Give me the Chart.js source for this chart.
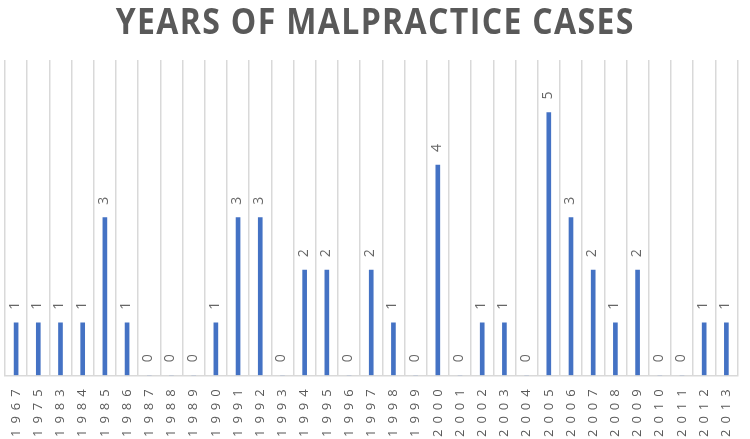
<!DOCTYPE html>
<html>
<head>
<meta charset="utf-8">
<script src="https://cdn.jsdelivr.net/npm/chart.js@4"></script>
<style>
    body { margin: 0; background: #fff; }
    #wrap { position: relative; width: 750px; height: 439px; }
    #title {
        position: absolute; left: 0; top: 0; width: 750px; text-align: center;
        font-family: 'Open Sans', sans-serif; font-weight: 700; font-size: 36px;
        color: #595959; letter-spacing: 1.5px; line-height: 42px;
        transform: scaleX(0.89); transform-origin: 377px 0;
    }
</style>
</head>
<body>
<div id="wrap">
    <div id="title">YEARS OF MALPRACTICE CASES</div>
    <canvas id="cases-chart" width="750" height="439"></canvas>
</div>
<script>
const years = ['1967', '1975', '1983', '1984', '1985', '1986', '1987', '1988', '1989', '1990',
    '1991', '1992', '1993', '1994', '1995', '1996', '1997', '1998', '1999', '2000',
    '2001', '2002', '2003', '2004', '2005', '2006', '2007', '2008', '2009', '2010',
    '2011', '2012', '2013'];
const caseCounts = [1, 1, 1, 1, 3, 1, 0, 0, 0, 1,
    3, 3, 0, 2, 2, 0, 2, 1, 0, 4,
    0, 1, 1, 0, 5, 3, 2, 1, 2, 0,
    0, 1, 1];

const textGray = '#595959';

// spaced-out digits like the original
const spacing = {
    id: 'spacing',
    beforeLayout(chart) { chart.ctx.letterSpacing = '6px'; },
    beforeDraw(chart) { chart.ctx.letterSpacing = '6px'; }
};

// value above each bar, rotated
const barLabels = {
    id: 'barLabels',
    afterDatasetsDraw(chart) {
        const ctx = chart.ctx;
        const meta = chart.getDatasetMeta(0);
        meta.data.forEach((bar, i) => {
            ctx.save();
            ctx.letterSpacing = '0px';
            ctx.font = '14px "Open Sans", sans-serif';
            ctx.fillStyle = '#666';
            ctx.translate(bar.x - 1, bar.y - 17);
            ctx.rotate(-Math.PI / 2);
            ctx.textAlign = 'center';
            ctx.textBaseline = 'middle';
            ctx.fillText(String(caseCounts[i]), 0, 0);
            ctx.restore();
        });
    }
};

function createCasesChart() {
    const ctx = document.getElementById('cases-chart').getContext('2d');
    new Chart(ctx, {
        type: 'bar',
        data: {
            labels: years,
            datasets: [{
                label: 'Cases',
                data: caseCounts,
                backgroundColor: '#4472c4',
                barThickness: 4
            }]
        },
        options: {
            responsive: false,
            animation: false,
            layout: { padding: { top: 60, left: 5, right: 2, bottom: -6 } },
            plugins: {
                legend: { display: false },
                tooltip: { enabled: false }
            },
            scales: {
                x: {
                    offset: true,
                    grid: {
                        offset: true,
                        color: '#d9d9d9',
                        lineWidth: 1.5,
                        drawTicks: false
                    },
                    border: { color: '#d9d9d9', width: 1.5 },
                    ticks: {
                        minRotation: 90,
                        maxRotation: 90,
                        padding: 8,
                        autoSkip: false,
                        color: textGray,
                        font: { family: 'Open Sans', size: 13 }
                    }
                },
                y: {
                    display: false,
                    min: 0,
                    max: 6
                }
            }
        },
        plugins: [spacing, barLabels]
    });
}

createCasesChart();
</script>
</body>
</html>
